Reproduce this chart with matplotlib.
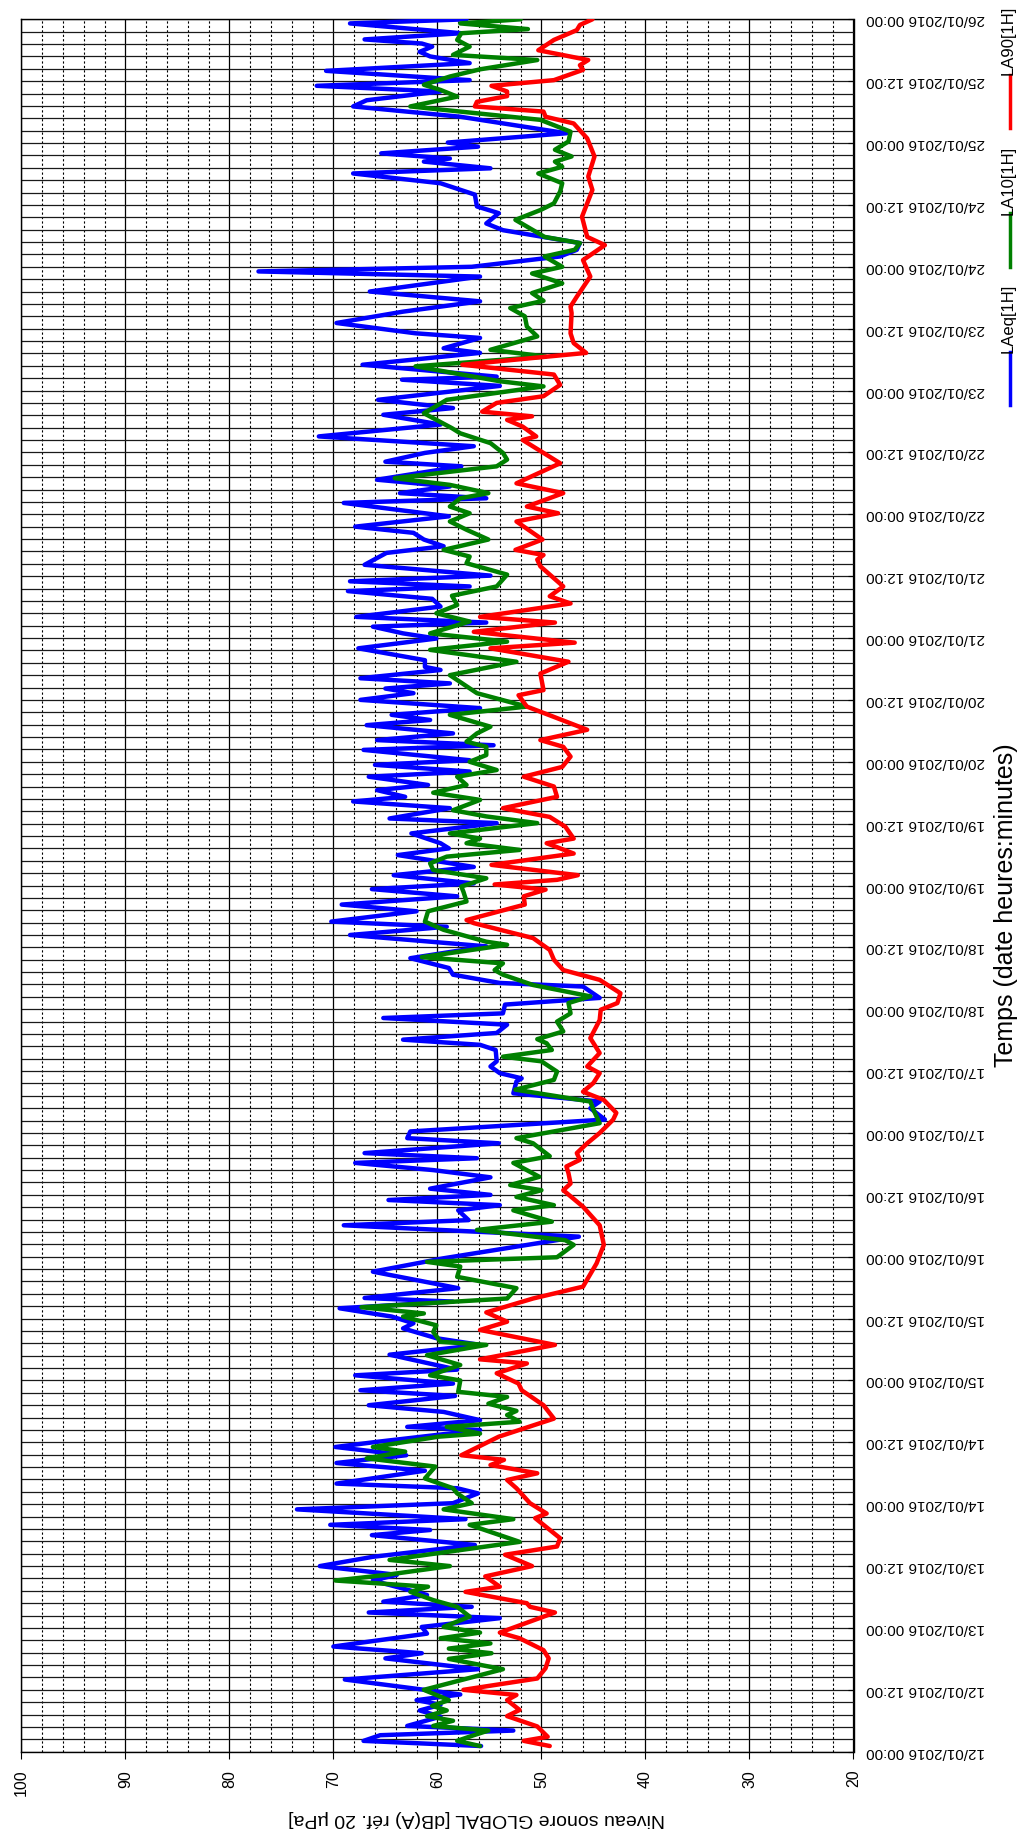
import matplotlib
matplotlib.use('Agg')
import matplotlib.pyplot as plt
import matplotlib.dates as mdates
from matplotlib import font_manager
from matplotlib.ticker import MultipleLocator
from matplotlib.lines import Line2D
import pandas as pd

plt.rcParams['font.family'] = ['Liberation Sans', 'DejaVu Sans']

# start of the measurement, values are (hours since start, dB(A))
start = pd.Timestamp('2016-01-12 00:00')
n_days = 14

laeq = [(1.1,55.8),(2.1,67.1),(3.2,65.5),(4.1,52.7),(5.0,62.9),(6.8,59.7),(8.0,61.7),(9.1,59.7),(10.0,62.0),(11.1,57.8),
        (14.0,68.9),(16.0,56.1),(18.1,65.0),(19.1,61.5),(20.4,70.0),(22.9,61.0),(24.2,61.5),(25.9,54.0),(27.0,66.6),(28.1,56.7),
        (29.1,65.2),(30.4,61.0),(33.2,66.2),(34.3,63.9),(36.0,71.3),(37.8,66.2),(40.1,56.4),(42.0,66.3),(43.0,60.7),(44.0,70.3),
        (45.1,57.3),(47.0,73.5),(48.2,58.5),(50.1,56.1),(51.1,58.1),(52.0,69.7),(54.5,61.2),(56.0,69.7),(57.5,63.0),(59.1,69.8),
        (60.1,65.8),(62.4,55.9),(63.0,62.9),(64.3,55.9),(65.9,59.4),(67.2,66.6),(69.0,58.3),(70.1,67.4),(71.4,58.5),(73.0,67.9),
        (74.1,58.1),(77.0,64.6),(78.9,55.9),(80.2,60.1),(82.1,63.3),(83.1,62.3),(84.4,64.4),(86.0,69.4),(87.3,58.5),(88.0,67.0),
        (89.9,58.0),(93.1,66.2),(95.7,59.4),(99.9,46.4),(102.1,69.0),(103.1,57.0),(105.0,58.0),(106.0,54.0),(107.0,64.7),(108.0,54.9),
        (109.2,60.7),(111.4,54.9),(112.8,60.4),(114.2,67.9),(115.1,56.2),(116.1,67.0),(118.0,54.1),(119.0,62.9),(120.3,62.6),(122.6,43.9),
        (124.8,45.3),(126.1,44.4),(127.7,52.7),(130.0,52.4),(130.6,51.9),(131.6,54.0),(132.9,54.9),(133.9,54.3),(136.1,54.4),(137.1,55.9),
        (138.1,63.3),(139.4,54.3),(141.0,53.3),(142.3,65.2),(143.2,53.7),(144.9,53.5),(146.2,44.4),(148.4,46.0),(149.1,54.0),(150.7,58.5),
        (152.0,58.9),(153.9,62.6),(156.2,55.3),(158.4,68.4),(160.0,59.1),(161.0,70.2),(163.0,62.0),(164.3,69.2),(165.9,58.1),(167.3,66.3),
        (168.4,56.5),(170.0,64.2),(171.6,56.5),(173.9,63.8),(175.2,58.9),(176.2,59.7),(178.1,62.5),(180.1,54.3),(181.0,64.6),(183.0,58.8),
        (184.3,68.1),(185.2,63.1),(186.5,65.8),(187.5,60.9),(189.1,66.6),(190.1,56.9),(191.4,66.0),(192.3,56.9),(194.3,67.1),(195.2,54.6),
        (196.2,65.8),(197.5,58.5),(199.1,66.8),(200.1,60.7),(201.1,64.4),(202.4,55.9),(204.0,67.4),(205.3,62.3),(206.2,65.0),(207.2,58.8),
        (208.2,67.4),(209.8,59.7),(210.4,61.2),(211.7,61.2),(214.0,67.6),(215.9,60.1),(216.9,63.3),(218.2,66.2),(219.0,55.3),(220.1,67.8),
        (222.1,59.7),(223.6,60.5),(225.1,68.6),(226.0,56.9),(227.0,68.4),(228.1,54.9),(230.2,67.0),(232.5,64.9),(233.8,59.4),(235.1,61.3),
        (236.4,62.3),(237.6,67.9),(239.6,58.9),(242.2,69.0),(243.1,55.3),(244.1,63.6),(245.4,58.8),(246.7,65.8),(249.3,57.7),(250.2,65.0),
        (251.9,61.2),(253.2,56.5),(255.1,71.4),(257.4,59.7),(259.3,65.2),(260.6,58.5),(262.2,65.7),(264.9,54.0),(266.1,63.4),(266.7,54.3),
        (269.0,67.2),(271.3,55.9),(272.2,59.4),(274.2,55.9),(275.1,62.1),(277.1,69.7),(279.3,63.3),(281.3,55.9),(283.2,66.5),(286.1,55.9),
        (287.1,77.2),(288.0,56.7),(290.0,48.2),(291.3,46.6),(292.6,46.3),(295.1,53.7),(296.4,55.3),(298.4,54.1),(299.7,56.2),(302.0,56.4),
        (304.2,59.7),(306.1,68.1),(307.1,54.9),(308.4,61.3),(309.0,58.8),(310.0,65.4),(311.3,56.1),(312.1,59.0),(313.9,47.6),(317.1,57.8),
        (319.1,68.1),(320.3,66.8),(322.0,59.7),(323.1,71.6),(324.2,56.9),(326.0,70.7),(327.5,56.9),(328.8,60.7),(329.7,61.7),(330.7,60.5),
        (331.3,61.5),(332.1,67.0),(333.3,57.7),(335.2,68.4),(336.0,57.2)]

la10 = [(1.1,55.9),(2.1,58.1),(3.2,56.5),(4.1,55.1),(5.0,60.4),(6.0,58.5),(6.9,61.0),(8.0,59.1),(8.9,60.5),(10.0,58.9),
        (12.0,61.3),(14.0,57.5),(16.0,53.7),(18.0,58.9),(19.1,54.8),(20.0,58.9),(21.0,54.9),(22.0,59.7),(23.1,55.9),(24.2,59.4),
        (26.2,56.9),(28.1,58.1),(29.4,60.4),(31.0,62.6),(32.0,60.9),(33.2,69.8),(34.3,64.9),(36.0,58.8),(37.2,64.6),(40.7,52.1),
        (44.0,56.9),(45.1,52.7),(47.0,59.4),(48.2,56.7),(50.1,58.1),(51.1,58.5),(53.0,61.2),(55.3,60.2),(56.9,66.8),(58.2,63.1),
        (59.1,66.2),(61.1,59.9),(61.7,55.9),(63.0,59.1),(64.0,52.1),(65.3,53.3),(66.1,52.4),(67.5,55.1),(68.8,53.3),(69.8,58.0),
        (72.0,57.8),(73.0,60.7),(75.0,57.8),(76.9,61.0),(78.9,55.3),(79.5,59.7),(81.4,60.4),(82.7,60.1),(84.4,63.3),(85.0,61.3),
        (86.2,67.3),(87.9,53.3),(89.9,52.4),(92.1,58.1),(94.1,57.8),(95.0,61.0),(95.9,48.5),(98.3,46.9),(99.2,47.7),(101.2,56.2),
        (102.8,49.0),(105.0,52.7),(106.0,48.8),(107.6,52.4),(108.9,50.0),(109.9,53.0),(111.5,50.2),(114.2,52.7),(115.5,49.2),(118.0,50.8),
        (119.0,52.4),(121.9,44.4),(124.5,45.0),(126.1,45.3),(128.4,52.5),(130.3,48.8),(131.9,48.5),(133.9,50.0),(134.8,53.7),(136.1,49.0),
        (137.4,49.5),(138.2,50.4),(139.7,47.9),(141.6,48.5),(143.2,47.2),(145.2,47.4),(146.5,45.3),(148.7,50.8),(150.7,53.7),(151.6,54.5),
        (152.9,53.7),(154.1,61.5),(156.5,53.3),(157.1,55.3),(159.4,59.4),(161.0,61.2),(163.0,60.9),(164.9,57.2),(166.8,57.5),(167.8,57.7),
        (169.4,55.3),(171.0,60.4),(172.3,60.7),(173.6,59.1),(174.9,52.1),(176.2,57.2),(177.1,55.9),(178.1,58.8),(180.1,50.4),(181.4,55.3),
        (182.6,58.5),(184.6,55.9),(186.0,60.4),(187.5,57.2),(189.1,58.1),(190.4,54.3),(192.0,56.9),(193.3,55.3),(194.9,55.3),(195.9,57.2),
        (197.5,56.2),(198.8,54.9),(201.1,58.8),(202.7,51.4),(205.3,56.2),(208.8,58.8),(211.4,52.4),(213.7,60.7),(215.3,53.3),(216.9,60.7),
        (219.2,56.9),(220.8,60.1),(222.4,58.1),(224.2,58.6),(226.0,54.3),(228.3,53.3),(230.5,57.2),(231.8,56.9),(233.1,59.4),(235.1,55.1),
        (237.0,57.2),(238.6,58.8),(240.2,56.9),(241.5,58.8),(243.1,57.8),(244.1,55.1),(245.7,58.8),(247.0,64.1),(249.3,54.3),(250.6,53.3),
        (251.9,53.7),(253.8,54.9),(255.7,57.8),(256.7,58.6),(259.6,61.3),(262.2,59.1),(264.8,49.8),(265.8,54.0),(268.7,62.1),(270.6,49.6),
        (271.9,54.9),(274.5,50.4),(276.4,51.4),(278.4,51.6),(280.0,53.0),(281.4,49.8),(282.9,50.9),(284.8,48.0),(286.7,50.9),(288.0,48.0),
        (290.0,49.7),(291.3,46.8),(292.6,46.3),(293.8,49.7),(297.1,52.5),(299.0,50.1),(300.3,48.8),(302.6,48.2),(304.2,48.0),(306.1,50.3),
        (307.4,48.0),(308.4,48.7),(309.4,47.1),(310.7,48.7),(312.3,47.4),(314.2,47.2),(316.5,50.1),(319.1,62.6),(321.0,58.1),(322.3,59.7),
        (323.3,61.3),(324.9,58.8),(326.3,55.9),(328.1,50.4),(329.1,58.5),(330.7,56.9),(332.0,58.1),(333.3,57.7),(334.1,51.3),(335.2,57.8),
        (336.0,52.0)]

la90 = [(1.1,49.2),(2.1,51.7),(2.9,49.4),(4.9,50.4),(6.9,53.3),(8.1,52.1),(10.0,53.3),(11.0,52.4),(12.0,57.5),(14.2,50.4),
        (16.2,49.6),(18.1,49.3),(19.7,49.8),(22.0,52.1),(23.1,54.0),(27.0,48.7),(28.1,51.1),(28.8,51.4),(31.0,57.3),(32.0,54.0),
        (34.0,55.4),(36.0,50.9),(38.2,53.5),(39.8,48.5),(41.4,48.2),(45.3,50.6),(46.2,49.5),(48.2,51.1),(51.1,52.4),(52.7,53.3),
        (54.0,50.4),(55.6,54.9),(56.6,53.6),(57.5,57.7),(61.1,54.1),(64.6,48.8),(67.2,49.8),(70.1,51.9),(71.4,52.2),(73.4,54.3),
        (75.3,51.4),(76.1,55.9),(78.9,48.7),(81.8,55.9),(83.4,53.3),(85.2,55.3),(87.9,50.8),(90.2,46.0),(94.7,44.7),(98.3,44.0),
        (102.1,44.4),(105.7,46.0),(108.9,47.9),(110.2,47.2),(112.2,47.4),(113.5,47.6),(114.8,46.3),(116.1,46.6),(118.0,45.6),(120.0,44.4),
        (122.6,43.1),(123.9,42.8),(126.4,44.0),(128.0,46.0),(129.7,45.0),(131.6,44.4),(132.9,45.6),(135.5,44.4),(138.4,45.3),(141.9,44.4),
        (143.9,44.3),(145.2,42.7),(147.1,42.4),(149.7,44.4),(151.6,47.9),(153.6,48.8),(155.5,49.2),(157.8,50.8),(160.7,56.5),(161.3,57.2),
        (164.3,51.6),(165.9,51.7),(167.2,49.6),(168.2,54.5),(169.1,48.5),(170.0,46.5),(172.0,54.8),(174.2,46.9),(176.2,49.5),(177.1,46.9),
        (179.4,47.7),(181.3,49.2),(183.0,53.7),(185.2,48.5),(187.2,48.8),(189.1,51.7),(191.0,48.0),(193.0,47.2),(194.9,47.9),(196.2,50.1),
        (198.2,45.6),(200.7,48.8),(202.7,51.4),(204.9,52.2),(205.9,49.8),(209.1,50.1),(211.4,47.4),(214.0,54.9),(215.1,46.8),(217.2,56.5),
        (219.0,48.7),(220.1,55.9),(222.7,47.2),(224.1,49.2),(226.0,47.9),(229.9,50.1),(231.2,50.4),(232.1,49.8),(233.1,52.5),(235.1,49.9),
        (238.6,52.4),(240.2,48.4),(241.5,51.4),(244.1,47.9),(246.0,52.4),(249.9,48.2),(254.4,51.8),(255.1,50.5),(257.0,51.8),(258.3,53.3),
        (259.0,50.9),(259.9,55.7),(261.6,54.3),(262.9,49.8),(265.1,48.2),(267.1,48.8),(269.0,57.6),(271.3,45.7),(273.2,46.9),(275.1,47.2),
        (279.0,47.1),(280.3,47.2),(282.2,46.6),(286.1,45.3),(289.3,46.0),(292.2,43.9),(293.8,45.6),(297.7,46.1),(302.9,45.1),(305.5,45.5),
        (309.4,44.9),(312.9,45.6),(315.8,46.9),(317.1,49.6),(318.1,49.8),(319.1,56.4),(320.0,56.2),(321.1,53.3),(322.0,53.3),(323.1,54.8),
        (324.2,48.8),(326.2,46.0),(327.1,46.3),(328.1,45.5),(330.0,50.3),(332.0,48.8),(333.9,46.6),(334.9,46.3),(336.0,45.1)]

series_names = ['LAeq[1H]', 'LA10[1H]', 'LA90[1H]']
series_colors = ['#0000ff', '#008000', '#ff0000']
db_ticks = [100, 90, 80, 70, 60, 50, 40, 30, 20]

W, H = 1024, 1834


def to_xy(pairs):
    hours = [p[0] for p in pairs]
    db = [p[1] for p in pairs]
    t = start + pd.to_timedelta(hours, unit='h')
    return db, t


# condensed face for the axis title / legend if there is one
installed = {f.name for f in font_manager.fontManager.ttflist}
if 'Liberation Sans Narrow' in installed:
    narrow, narrow_size, leg_size = ['Liberation Sans Narrow', 'DejaVu Sans'], 20, 14
else:
    narrow, narrow_size, leg_size = ['Liberation Sans', 'DejaVu Sans'], 18, 12

fig = plt.figure(figsize=(W / 100, H / 100), dpi=100)
# the chart is drawn rotated: dB runs left->right (100 to 20), time runs bottom->top
ax = fig.add_axes([21.3 / W, 1 - 1751.7 / H, (853.5 - 21.3) / W, (1751.7 - 19.3) / H])

for pairs, name, color in zip([laeq, la10, la90], series_names, series_colors):
    db, t = to_xy(pairs)
    ax.plot(db, t, color=color, lw=3.2, solid_joinstyle='round', solid_capstyle='round', zorder=3)

ax.set_xlim(db_ticks[0], db_ticks[-1])
ax.set_ylim(start, start + pd.Timedelta(days=n_days))

ax.set_xticks(db_ticks)
ax.xaxis.set_minor_locator(MultipleLocator(2))
ax.yaxis.set_major_locator(mdates.HourLocator(byhour=[0, 12]))
ax.yaxis.set_major_formatter(mdates.DateFormatter('%d/%m/%Y %H:%M'))
ax.yaxis.set_minor_locator(MultipleLocator(0.1))  # every 2.4 h

ax.grid(which='major', axis='x', color='black', lw=0.9)
ax.grid(which='minor', axis='x', color='black', lw=0.8, ls=(0, (2, 2)))
ax.grid(which='both', axis='y', color='#1a1a1a', lw=0.9)
ax.set_axisbelow(True)

ax.yaxis.tick_right()
ax.tick_params(axis='y', which='major', direction='in', length=4, pad=9,
               labelsize=11, labelrotation=180)
ax.tick_params(axis='y', which='minor', length=0)
ax.tick_params(axis='x', which='major', direction='out', length=5, pad=8,
               labelsize=11.5, labelrotation=90)
ax.tick_params(axis='x', which='minor', length=0)
for lab in ax.get_yticklabels():
    lab.set_va('center')
for sp in ax.spines.values():
    sp.set_color('black')
    sp.set_linewidth(1)

fig.text(477 / W, 1 - 1818 / H, 'Niveau sonore GLOBAL [dB(A) réf. 20 µPa]',
         rotation=180, ha='center', va='center', fontsize=14)

fig.text(1006 / W, 1 - 905 / H, 'Temps (date heures:minutes)', rotation=90,
         ha='center', va='center', fontsize=narrow_size, family=narrow)

# legend, drawn by hand because the text has to be rotated
leg_x = 1010 / W
leg_text = [(318, 'LAeq[1H]'), (180, 'LA10[1H]'), (40, 'LA90[1H]')]
leg_line = [(352, 405), (213, 267), (75, 128)]
for (ty, name), (y0, y1), color in zip(leg_text, leg_line, series_colors):
    fig.text(leg_x - 2 / W, 1 - ty / H, name, rotation=90, ha='center', va='center',
             fontsize=leg_size, family=narrow)
    fig.add_artist(Line2D([leg_x, leg_x], [1 - y0 / H, 1 - y1 / H], color=color, lw=2.5,
                          transform=fig.transFigure))

fig.savefig('out.png', dpi=100)
